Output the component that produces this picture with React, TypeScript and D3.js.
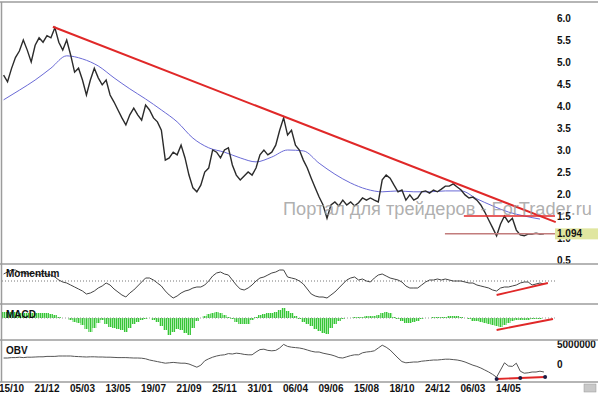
import { useEffect, useRef } from 'react';
import * as d3 from 'd3';

const WIDTH = 598;
const HEIGHT = 394;

// Date labels along the bottom, one every 9 weekly samples (first at sample 2)
const dateLabels = [
  '15/10', '21/12', '05/03', '13/05', '19/07', '21/09', '25/11', '31/01',
  '06/04', '09/06', '15/08', '18/10', '24/12', '06/03', '14/05',
];
const dateLabelFirst = 2;
const dateLabelEvery = 9;

// Weekly closes
const closes = [
  4.70, 4.55, 4.85, 5.10, 5.25, 5.50, 5.27, 5.00, 5.38, 5.55, 5.45, 5.60, 5.55, 5.78,
  5.45, 5.27, 5.50, 5.16, 4.77, 4.86, 4.59, 4.25, 4.59, 4.86, 4.64, 4.48, 4.59, 4.25,
  4.09, 3.91, 3.73, 3.57, 3.80, 3.95, 3.80, 3.68, 4.02, 3.91, 3.73, 3.64, 3.45, 2.77,
  2.82, 2.95, 2.89, 3.11, 2.82, 2.43, 2.14, 2.05, 2.20, 2.50, 2.59, 3.00, 2.95, 2.82,
  3.00, 3.05, 2.66, 2.43, 2.32, 2.41, 2.50, 2.43, 2.59, 2.89, 3.00, 2.89, 2.95, 3.11,
  3.45, 3.73, 3.34, 3.45, 3.11, 3.00, 2.77, 2.59, 2.36, 2.14, 1.93, 1.75, 1.45, 1.75,
  1.82, 1.73, 1.86, 1.75, 1.82, 1.73, 1.80, 1.91, 1.86, 1.91, 1.86, 1.82, 2.32, 2.43,
  2.36, 2.20, 2.05, 2.09, 1.86, 1.98, 1.86, 1.91, 2.05, 2.07, 2.02, 2.09, 2.05, 2.11,
  2.18, 2.18, 2.23, 2.16, 2.09, 1.98, 1.91, 1.93, 1.86, 1.75, 1.59, 1.41, 1.23, 1.05,
  1.32, 1.50, 1.36, 1.45, 1.18, 1.07, 1.05, 1.09, 1.09, 1.11, 1.09, 1.094,
];

// Moving average, read every 4th sample
const maEvery = 4;
const movingAvg = [
  4.14, 4.36, 4.59, 4.86, 5.14, 5.07, 4.91, 4.64, 4.39, 4.16, 3.91, 3.64, 3.27, 3.05,
  2.95, 2.82, 2.73, 2.84, 3.00, 2.98, 2.70, 2.45, 2.25, 2.11, 2.05, 2.07, 2.05, 2.05,
  2.07, 2.07, 1.89, 1.73, 1.59, 1.50, 1.43,
];

const momentum = [
  114, 118, 122, 122, 118, 116, 114, 116, 114, 112, 116, 114, 112, 108,
  102, 98, 96, 92, 88, 84, 80, 74, 76, 80, 86, 90, 96, 92,
  84, 78, 72, 68, 76, 82, 90, 98, 106, 106, 102, 96, 90, 80,
  72, 66, 70, 76, 80, 82, 86, 88, 88, 92, 100, 110, 116, 118,
  114, 112, 102, 92, 84, 82, 86, 92, 100, 106, 108, 112, 116, 118,
  122, 122, 108, 106, 104, 100, 94, 84, 74, 70, 68, 68, 66, 72,
  78, 86, 94, 102, 106, 108, 102, 104, 100, 98, 106, 112, 114, 110,
  106, 104, 102, 98, 90, 86, 86, 86, 92, 98, 102, 102, 104, 102,
  104, 102, 100, 100, 100, 98, 96, 96, 92, 90, 88, 86, 82, 80,
  86, 88, 88, 90, 92, 96, 98, 98, 92, 94, 96, 94,
];

const macd = [
  0.06, 0.06, 0.06, 0.06, 0.05, 0.05, 0.05, 0.05, 0.05, 0.05, 0.05, 0.05, 0.04, 0.03,
  0.01, 0, 0, -0.02, -0.04, -0.05, -0.07, -0.11, -0.14, -0.10, -0.05, -0.02, -0.06, -0.09,
  -0.10, -0.11, -0.12, -0.14, -0.10, -0.06, -0.04, -0.02, -0.01, 0, -0.02, -0.04, -0.08, -0.12,
  -0.17, -0.14, -0.11, -0.12, -0.15, -0.17, -0.10, -0.03, 0, 0.02, 0.04, 0.05, 0.06, 0.05,
  0.03, 0.01, -0.01, -0.04, -0.06, -0.06, -0.06, -0.02, 0.01, 0.03, 0.04, 0.05, 0.05, 0.06,
  0.08, 0.10, 0.07, 0.05, 0.02, -0.01, -0.04, -0.06, -0.08, -0.11, -0.13, -0.15, -0.16, -0.10,
  -0.06, -0.03, -0.01, 0, 0, 0.01, 0.01, 0.01, 0.02, 0.02, 0.02, 0.03, 0.05, 0.06,
  0.05, 0.01, -0.01, -0.03, -0.05, -0.05, -0.04, -0.03, -0.01, 0, 0, 0.01, 0.01, 0.01,
  0.01, 0.02, 0.02, 0.02, 0.01, 0, -0.01, -0.03, -0.03, -0.04, -0.05, -0.06, -0.07, -0.08,
  -0.09, -0.07, -0.05, -0.03, -0.02, -0.02, -0.02, -0.02, -0.01, -0.01, -0.01, 0,
];

// On-balance volume, millions
const obv = [
  1.5, 1.5, 1.6, 1.6, 1.7, 1.6, 1.7, 1.7, 1.75, 1.8, 1.8, 1.9, 1.9, 1.9,
  2.0, 2.0, 2.0, 2.0, 1.9, 1.85, 1.8, 1.75, 1.8, 1.8, 1.75, 1.75, 1.7, 1.7,
  1.65, 1.6, 1.6, 1.6, 1.55, 1.5, 1.5, 1.45, 1.3, 1.0, 0.8, 0.6, 0.4, 0.2,
  0.3, 0.4, 0.3, 0.2, 0.2, 0.0, -0.4, -0.8, -0.3, 0.8, 1.3, 1.7, 2.0, 2.2,
  2.3, 2.6, 2.5, 2.7, 2.6, 2.4, 2.3, 2.3, 3.0, 3.6, 3.7, 3.4, 3.3, 3.4,
  4.0, 4.9, 4.4, 4.2, 4.1, 4.0, 3.8, 3.5, 3.2, 3.0, 3.0, 2.7, 2.5, 2.3,
  2.0, 1.6, 1.5, 1.8, 2.1, 2.3, 2.3, 2.8, 3.0, 3.1, 3.3, 4.0, 4.7, 4.2,
  3.5, 2.5, 1.5, 0.6, 0.3, 0.4, 0.5, 0.5, 0.7, 0.8, 0.9, 1.0, 1.0, 1.1,
  1.2, 1.2, 1.1, 1.0, 0.8, 0.5, 0.1, -0.3, -0.6, -1.0, -1.5, -2.0, -2.6, -3.3,
  -1.5, 0.3, -0.5, -0.6, 0.2, -1.8, -2.3, -2.2, -2.0, -2.0, -1.8, -2.0,
];

const priceTicks = [6.0, 5.5, 5.0, 4.5, 4.0, 3.5, 3.0, 2.5, 2.0, 1.5, 1.0, 0.5];
const lastPrice = 1.094;
const obvTicks = [5000000, 0];

// Hand-drawn lines: [sample, value]
const priceTrend: [number, number][] = [[12.5, 5.8], [140, 1.36]];
const resistance: [number, number][] = [[116.7, 1.5], [139.8, 1.5]];
const support: [number, number][] = [[111.9, 1.094], [139.8, 1.094]];
const momentumTrend: [number, number][] = [[125, 72], [138, 96]];
const macdTrend: [number, number][] = [[125, -0.12], [139.3, -0.01]];
const obvTrend: [number, number][] = [[125, -3.75], [131, -3.5], [137.3, -3.25]];

const FONT = 'Arial, "Liberation Sans", sans-serif';

export default function App() {
  const svgRef = useRef<SVGSVGElement>(null);

  useEffect(() => {
    if (!svgRef.current) return;
    const svg = d3.select(svgRef.current);
    svg.selectAll('*').remove();

    const left = 2;
    const right = 555;
    const step = 3.944;
    const x = d3.scaleLinear().domain([0, 140]).range([3.6, 3.6 + 140 * step]);

    const yPrice = d3.scaleLinear().domain([0.5, 6.0]).range([260, 18]);
    const yMom = d3.scaleLinear().domain([54, 134]).range([304, 264]);
    const yMacd = d3.scaleLinear().domain([-0.22, 0.14]).range([340, 304]);
    const yObv = d3.scaleLinear().domain([-4.5, 6]).range([382, 340]);

    svg.append('rect').attr('width', WIDTH).attr('height', HEIGHT).attr('fill', '#fff');

    // stripes for the MACD histogram
    const pat = svg
      .append('defs')
      .append('pattern')
      .attr('id', 'macdStripes')
      .attr('patternUnits', 'userSpaceOnUse')
      .attr('width', 2)
      .attr('height', 4);
    pat.append('rect').attr('width', 1).attr('height', 4).attr('fill', '#37c437');
    pat.append('rect').attr('x', 1).attr('width', 1).attr('height', 4).attr('fill', '#a4eaa4');

    const lineXY = (yS: d3.ScaleLinear<number, number>) =>
      d3
        .line<[number, number]>()
        .x((d) => x(d[0]))
        .y((d) => yS(d[1]));

    // --- Price panel ---
    g_watermark_placeholder: {
    }

    svg
      .append('path')
      .datum(movingAvg.map((v, i) => [i * maEvery, v] as [number, number]))
      .attr('d', lineXY(yPrice).curve(d3.curveMonotoneX))
      .attr('fill', 'none')
      .attr('stroke', '#6a6ad6')
      .attr('stroke-width', 1);

    svg
      .append('path')
      .datum(closes.map((v, i) => [i, v] as [number, number]))
      .attr('d', lineXY(yPrice))
      .attr('fill', 'none')
      .attr('stroke', '#2b2b2b')
      .attr('stroke-width', 1.4);

    svg
      .append('path')
      .datum(support)
      .attr('d', lineXY(yPrice))
      .attr('stroke', '#c27c7c')
      .attr('stroke-width', 1.5);
    svg
      .append('path')
      .datum(resistance)
      .attr('d', lineXY(yPrice))
      .attr('stroke', '#e02828')
      .attr('stroke-width', 1.5);
    svg
      .append('path')
      .datum(priceTrend)
      .attr('d', lineXY(yPrice))
      .attr('stroke', '#e02828')
      .attr('stroke-width', 2);

    svg
      .append('text')
      .attr('x', 283)
      .attr('y', 215)
      .attr('textLength', 309)
      .attr('lengthAdjust', 'spacingAndGlyphs')
      .attr('font-family', FONT)
      .attr('font-size', '18px')
      .attr('fill', '#9a9a9a')
      .attr('fill-opacity', 0.8)
      .text('Портал для трейдеров - ForTrader.ru');

    // price axis
    svg
      .selectAll('.ptick')
      .data(priceTicks)
      .enter()
      .append('text')
      .attr('x', 557)
      .attr('y', (d) => yPrice(d))
      .attr('dy', '0.36em')
      .attr('font-family', FONT)
      .attr('font-size', '10px')
      .attr('font-weight', 'bold')
      .attr('fill', '#111')
      .text((d) => d.toFixed(1));

    svg
      .append('rect')
      .attr('x', right)
      .attr('y', yPrice(lastPrice) - 5.5)
      .attr('width', WIDTH - right)
      .attr('height', 11)
      .attr('fill', '#e0e6a0');
    svg
      .append('text')
      .attr('x', 557)
      .attr('y', yPrice(lastPrice))
      .attr('dy', '0.36em')
      .attr('font-family', FONT)
      .attr('font-size', '10px')
      .attr('font-weight', 'bold')
      .attr('fill', '#111')
      .text(lastPrice.toFixed(3));

    // --- Momentum ---
    svg
      .append('line')
      .attr('x1', left)
      .attr('x2', right)
      .attr('y1', yMom(100))
      .attr('y2', yMom(100))
      .attr('stroke', '#777')
      .attr('stroke-dasharray', '1,2');
    svg
      .append('path')
      .datum(momentum.map((v, i) => [i, v] as [number, number]))
      .attr('d', lineXY(yMom))
      .attr('fill', 'none')
      .attr('stroke', '#444')
      .attr('stroke-width', 1);
    svg
      .append('path')
      .datum(momentumTrend)
      .attr('d', lineXY(yMom))
      .attr('stroke', '#e02828')
      .attr('stroke-width', 1.8);

    // --- MACD histogram ---
    svg
      .selectAll('.macd')
      .data(macd)
      .enter()
      .append('rect')
      .attr('x', (_, i) => x(i) - step / 2)
      .attr('width', step)
      .attr('y', (d) => Math.min(yMacd(d), yMacd(0)))
      .attr('height', (d) => Math.abs(yMacd(d) - yMacd(0)))
      .attr('fill', 'url(#macdStripes)');
    svg
      .append('line')
      .attr('x1', left)
      .attr('x2', right)
      .attr('y1', yMacd(0))
      .attr('y2', yMacd(0))
      .attr('stroke', '#999')
      .attr('stroke-dasharray', '1,2');
    svg
      .append('path')
      .datum(macdTrend)
      .attr('d', lineXY(yMacd))
      .attr('stroke', '#e02828')
      .attr('stroke-width', 1.8);

    // --- OBV ---
    svg
      .append('path')
      .datum(obv.map((v, i) => [i, v] as [number, number]))
      .attr('d', lineXY(yObv))
      .attr('fill', 'none')
      .attr('stroke', '#555')
      .attr('stroke-width', 1);
    svg
      .append('path')
      .datum(obvTrend)
      .attr('d', lineXY(yObv))
      .attr('fill', 'none')
      .attr('stroke', '#e02828')
      .attr('stroke-width', 1.8);
    svg
      .selectAll('.obvdot')
      .data(obvTrend)
      .enter()
      .append('circle')
      .attr('cx', (d) => x(d[0]))
      .attr('cy', (d) => yObv(d[1]))
      .attr('r', 2)
      .attr('fill', '#1c1c44');
    svg
      .selectAll('.otick')
      .data(obvTicks)
      .enter()
      .append('text')
      .attr('x', 557)
      .attr('y', (d) => yObv(d / 1e6))
      .attr('dy', '0.36em')
      .attr('font-family', FONT)
      .attr('font-size', '10px')
      .attr('font-weight', 'bold')
      .attr('fill', '#111')
      .text((d) => String(d));

    // --- Panel frame ---
    [2, 264, 304, 340, 382].forEach((yy) => {
      svg
        .append('line')
        .attr('x1', 0)
        .attr('x2', WIDTH)
        .attr('y1', yy)
        .attr('y2', yy)
        .attr('stroke', '#9c9c9c')
        .attr('stroke-width', 1.5);
    });
    svg
      .append('line')
      .attr('x1', 1.5)
      .attr('x2', 1.5)
      .attr('y1', 2)
      .attr('y2', 382)
      .attr('stroke', '#9c9c9c')
      .attr('stroke-width', 1.5);

    // panel titles
    [
      ['Momentum', 273],
      ['MACD', 314],
      ['OBV', 350],
    ].forEach(([label, yy]) => {
      svg
        .append('text')
        .attr('x', 6)
        .attr('y', yy as number)
        .attr('dy', '0.36em')
        .attr('font-family', FONT)
        .attr('font-size', '10px')
        .attr('font-weight', 'bold')
        .attr('fill', '#111')
        .text(label as string);
    });

    // date axis
    svg
      .selectAll('.dtick')
      .data(dateLabels)
      .enter()
      .append('text')
      .attr('x', (_, i) => x(dateLabelFirst + i * dateLabelEvery))
      .attr('y', 392)
      .attr('text-anchor', 'middle')
      .attr('font-family', FONT)
      .attr('font-size', '10px')
      .attr('font-weight', 'bold')
      .attr('fill', '#111')
      .text((d) => d);

    // scrollbar thumb
    svg
      .append('rect')
      .attr('x', 584)
      .attr('y', 384)
      .attr('width', 12)
      .attr('height', 8)
      .attr('fill', '#c8c8c8')
      .attr('stroke', '#999')
      .attr('stroke-width', 0.5);
  }, []);

  return (
    <svg
      ref={svgRef}
      width={WIDTH}
      height={HEIGHT}
      style={{ position: 'absolute', left: 0, top: 0, display: 'block' }}
    />
  );
}
